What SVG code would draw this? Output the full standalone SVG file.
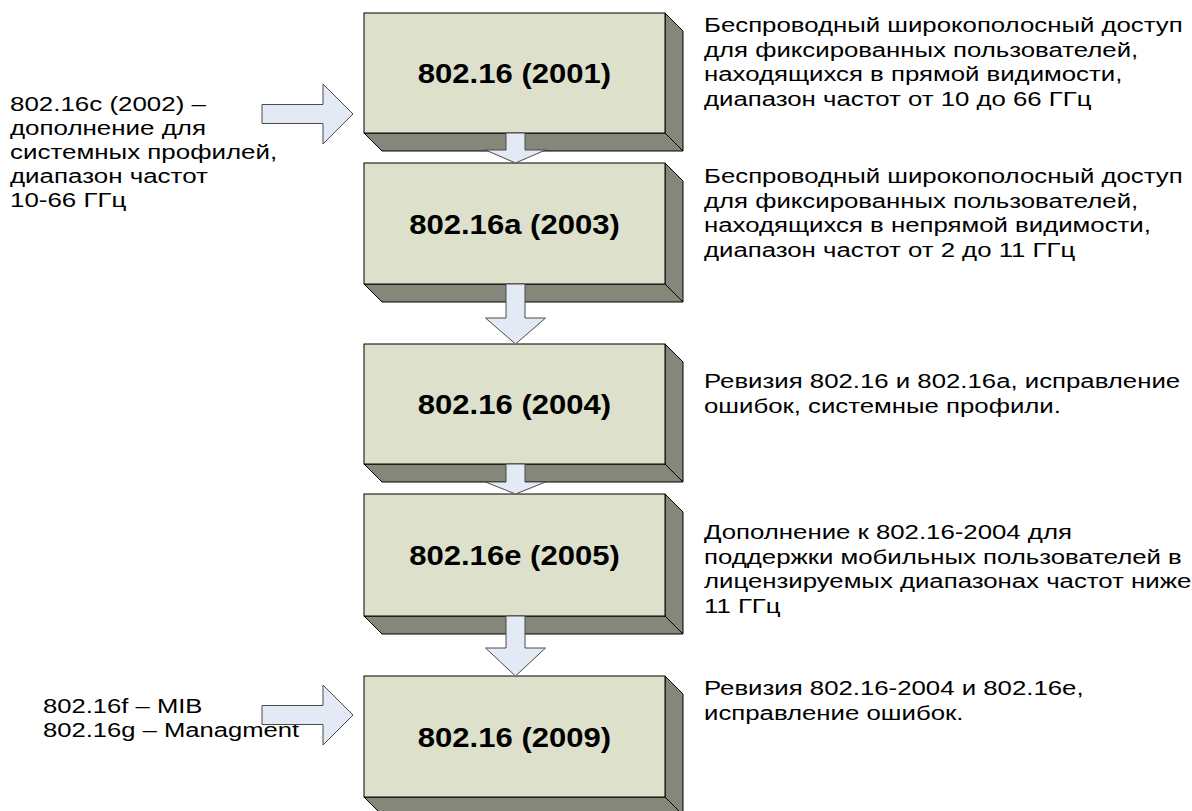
<svg xmlns="http://www.w3.org/2000/svg" width="1192" height="811" viewBox="0 0 1192 811">
  <defs>
    <style>
      .face { fill: #DDE0CB; stroke: #000; stroke-width: 1; }
      .side { fill: #848779; stroke: #000; stroke-width: 1; stroke-linejoin: miter; }
      .label { font-family: "Liberation Sans", Arial, sans-serif; font-weight: bold; font-size: 27.5px; fill: #000; text-anchor: middle; }
      .note { font-family: "Liberation Sans", Arial, sans-serif; font-size: 21px; fill: #000; }
      .arrow { fill: #E3EAF6; stroke: #4A4A4A; stroke-width: 1; stroke-linejoin: miter; }
    </style>
  </defs>
  <rect width="1192" height="811" fill="#fff"/>

  <!-- standard boxes: front face with bottom and right extrusion -->
  <g id="std-2001">
    <polygon class="side" points="364,133 665,133 683,151 382,151"/>
    <polygon class="side" points="665,13 683,31 683,151 665,133"/>
    <rect class="face" x="364" y="13" width="301" height="120"/>
    <text class="label" x="0" y="83" transform="translate(514.5,0) scale(1.13,1)">802.16 (2001)</text>
  </g>
  <g id="std-2003">
    <polygon class="side" points="364,284 665,284 683,302 382,302"/>
    <polygon class="side" points="665,163 683,181 683,302 665,284"/>
    <rect class="face" x="364" y="163" width="301" height="121"/>
    <text class="label" x="0" y="234" transform="translate(514.5,0) scale(1.13,1)">802.16a (2003)</text>
  </g>
  <g id="std-2004">
    <polygon class="side" points="364,464 665,464 683,482 382,482"/>
    <polygon class="side" points="665,344 683,362 683,482 665,464"/>
    <rect class="face" x="364" y="344" width="301" height="120"/>
    <text class="label" x="0" y="414" transform="translate(514.5,0) scale(1.13,1)">802.16 (2004)</text>
  </g>
  <g id="std-2005">
    <polygon class="side" points="364,616 665,616 683,634 382,634"/>
    <polygon class="side" points="665,494 683,512 683,634 665,616"/>
    <rect class="face" x="364" y="494" width="301" height="122"/>
    <text class="label" x="0" y="565" transform="translate(514.5,0) scale(1.13,1)">802.16e (2005)</text>
  </g>
  <g id="std-2009">
    <polygon class="side" points="364,797 665,797 683,815 382,815"/>
    <polygon class="side" points="665,676 683,694 683,815 665,797"/>
    <rect class="face" x="364" y="676" width="301" height="121"/>
    <text class="label" x="0" y="747" transform="translate(514.5,0) scale(1.13,1)">802.16 (2009)</text>
  </g>

  <!-- side notes (wide Arial-style lettering) -->
  <g id="note-2002" transform="translate(10,0) scale(1.235,1)">
    <text class="note" x="0" y="111.5">802.16c (2002) –</text>
    <text class="note" x="0" y="135.5">дополнение для</text>
    <text class="note" x="0" y="159.5">системных профилей,</text>
    <text class="note" x="0" y="183.5">диапазон частот</text>
    <text class="note" x="0" y="207.5">10-66 ГГц</text>
  </g>
  <g id="note-fg" transform="translate(43,0) scale(1.22,1)">
    <text class="note" x="0" y="713">802.16f – MIB</text>
    <text class="note" x="0" y="737.5">802.16g – Managment</text>
  </g>
  <g id="desc-2001" transform="translate(704,0) scale(1.228,1)">
    <text class="note" x="0" y="32.5">Беспроводный широкополосный доступ</text>
    <text class="note" x="0" y="57">для фиксированных пользователей,</text>
    <text class="note" x="0" y="81.5">находящихся в прямой видимости,</text>
    <text class="note" x="0" y="106">диапазон частот от 10 до 66 ГГц</text>
  </g>
  <g id="desc-2003" transform="translate(704,0) scale(1.228,1)">
    <text class="note" x="0" y="183.5">Беспроводный широкополосный доступ</text>
    <text class="note" x="0" y="208">для фиксированных пользователей,</text>
    <text class="note" x="0" y="232.5">находящихся в непрямой видимости,</text>
    <text class="note" x="0" y="257">диапазон частот от 2 до 11 ГГц</text>
  </g>
  <g id="desc-2004" transform="translate(704,0) scale(1.228,1)">
    <text class="note" x="0" y="388.5">Ревизия 802.16 и 802.16a, исправление</text>
    <text class="note" x="0" y="413">ошибок, системные профили.</text>
  </g>
  <g id="desc-2005" transform="translate(704,0) scale(1.228,1)">
    <text class="note" x="0" y="539.5">Дополнение к 802.16-2004 для</text>
    <text class="note" x="0" y="564">поддержки мобильных пользователей в</text>
    <text class="note" x="0" y="588.5">лицензируемых диапазонах частот ниже</text>
    <text class="note" x="0" y="613">11 ГГц</text>
  </g>
  <g id="desc-2009" transform="translate(704,0) scale(1.228,1)">
    <text class="note" x="0" y="695.5">Ревизия 802.16-2004 и 802.16e,</text>
    <text class="note" x="0" y="720">исправление ошибок.</text>
  </g>

  <!-- block arrows -->
  <g id="connectors">
    <path class="arrow" d="M506,133 V150 H485.5 L515.5,163 L545.5,150 H525 V133 Z"/>
    <path class="arrow" d="M506,284 V318 H485.5 L515.5,344 L545.5,318 H525 V284 Z"/>
    <path class="arrow" d="M506,464 V482 H485.5 L515.5,494 L545.5,482 H525 V464 Z"/>
    <path class="arrow" d="M506,616 V648 H485.5 L515.5,676 L545.5,648 H525 V616 Z"/>
    <path class="arrow" d="M262,104.5 H323 V84 L353,114 L323,144 V123.5 H262 Z"/>
    <path class="arrow" d="M262,705.5 H323 V685 L353,715 L323,745 V724.5 H262 Z"/>
  </g>
</svg>
